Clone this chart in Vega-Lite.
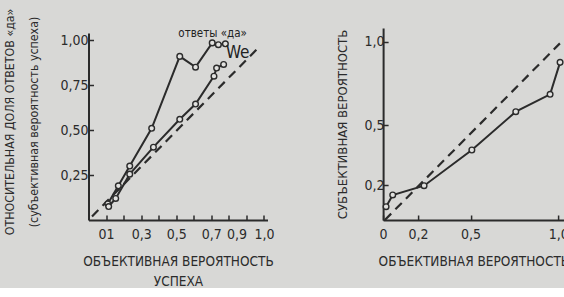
{
  "$schema": "https://vega.github.io/schema/vega-lite/v6.json",
  "background": "#d8d8d6",
  "padding": {"left": 3.5, "top": 8, "right": 0, "bottom": 0},
  "spacing": 115.6,
  "bounds": "flush",
  "config": {
    "view": {"stroke": null},
    "font": "Liberation Sans Narrow, Arial Narrow, DejaVu Sans Condensed, Roboto Condensed, Liberation Sans, sans-serif",
    "axis": {
      "grid": false,
      "domainColor": "#2b2b2b",
      "domainWidth": 2,
      "tickColor": "#2b2b2b",
      "tickWidth": 1.5,
      "tickSize": -5,
      "labelColor": "#2b2b2b",
      "labelFontSize": 14,
      "labelPadding": 5.5,
      "labelOverlap": false,
      "labelFlush": false,
      "titleColor": "#2b2b2b",
      "titleFontWeight": "normal",
      "titleFontSize": 13
    }
  },
  "datasets": {
    "left": [
      {"series": "yes", "i": 1, "x": 0.11, "y": 0.09},
      {"series": "yes", "i": 2, "x": 0.17, "y": 0.19},
      {"series": "yes", "i": 3, "x": 0.235, "y": 0.30},
      {"series": "yes", "i": 4, "x": 0.36, "y": 0.51},
      {"series": "yes", "i": 5, "x": 0.52, "y": 0.91},
      {"series": "yes", "i": 6, "x": 0.61, "y": 0.85},
      {"series": "yes", "i": 7, "x": 0.705, "y": 0.985},
      {"series": "yes", "i": 8, "x": 0.74, "y": 0.975},
      {"series": "yes", "i": 9, "x": 0.78, "y": 0.98},
      {"series": "we", "i": 1, "x": 0.115, "y": 0.075},
      {"series": "we", "i": 2, "x": 0.155, "y": 0.12},
      {"series": "we", "i": 3, "x": 0.235, "y": 0.255},
      {"series": "we", "i": 4, "x": 0.37, "y": 0.405},
      {"series": "we", "i": 5, "x": 0.52, "y": 0.56},
      {"series": "we", "i": 6, "x": 0.61, "y": 0.645},
      {"series": "we", "i": 7, "x": 0.715, "y": 0.80},
      {"series": "we", "i": 8, "x": 0.73, "y": 0.845},
      {"series": "we", "i": 9, "x": 0.77, "y": 0.865}
    ],
    "leftDiag": [
      {"x": 0.02, "y": 0.02},
      {"x": 0.96, "y": 0.95}
    ],
    "leftText": [
      {"x": 0.707, "y": 1.036, "label": "ответы «да»", "kind": "a"},
      {"x": 0.85, "y": 0.93, "label": "We", "kind": "b"}
    ],
    "right": [
      {"i": 1, "x": 0.017, "y": 0.076},
      {"i": 2, "x": 0.055, "y": 0.143},
      {"i": 3, "x": 0.234, "y": 0.196},
      {"i": 4, "x": 0.507, "y": 0.375},
      {"i": 5, "x": 0.758, "y": 0.58},
      {"i": 6, "x": 0.954, "y": 0.684},
      {"i": 7, "x": 1.011, "y": 0.876}
    ],
    "rightDiag": [
      {"x": 0.01, "y": 0.0},
      {"x": 1.01, "y": 0.99}
    ]
  },
  "hconcat": [
    {
      "width": 179,
      "height": 192,
      "layer": [
        {
          "data": {"name": "leftDiag"},
          "mark": {"type": "line", "color": "#2b2b2b", "strokeWidth": 2.2, "strokeDash": [9, 6]},
          "encoding": {
            "x": {"field": "x", "type": "quantitative"},
            "y": {"field": "y", "type": "quantitative"}
          }
        },
        {
          "data": {"name": "left"},
          "mark": {
            "type": "line",
            "color": "#2b2b2b",
            "strokeWidth": 2,
            "point": {"filled": true, "fill": "#e2e2e0", "stroke": "#2b2b2b", "strokeWidth": 1.4, "size": 32}
          },
          "encoding": {
            "x": {
              "field": "x", "type": "quantitative",
              "scale": {"domain": [0, 1.02], "range": [0, 179], "nice": false, "zero": false},
              "axis": {
                "values": [0.1, 0.2, 0.3, 0.4, 0.5, 0.6, 0.7, 0.8, 0.9, 1.0],
                "tickCount": 20,
                "labelExpr": "datum.value > 0.95 ? '1,0' : (datum.value < 0.15 ? '01' : (round(datum.value*10) % 2 == 0 ? '' : replace(format(datum.value, '.1f'), '.', ',')))",
                "labelAlign": {"condition": {"test": "datum.value > 0.85 && datum.value < 0.95", "value": "right"}, "value": "center"},
                "labelOverlap": false,
                "labelPadding": 12,
                "title": ["ОБЪЕКТИВНАЯ ВЕРОЯТНОСТЬ", "УСПЕХА"],
                "titleLineHeight": 20,
                "titleFontSize": 13.5,
                "titlePadding": 13
              }
            },
            "y": {
              "field": "y", "type": "quantitative",
              "scale": {"domain": [0, 1.04], "range": [192, 5], "nice": false, "zero": false},
              "axis": {
                "values": [0.25, 0.5, 0.75, 1.0],
                "tickCount": 10,
                "labelExpr": "replace(format(datum.value, '.2f'), '.', ',')",
                "labelOverlap": false,
                "title": ["ОТНОСИТЕЛЬНАЯ ДОЛЯ ОТВЕТОВ «да»", "(субъективная вероятность успеха)"],
                "titleFontSize": 12.3,
                "titleLineHeight": 24,
                "titlePadding": 19,
                "titleY": 93.5
              }
            },
            "detail": {"field": "series"},
            "order": {"field": "i"}
          }
        },
        {
          "data": {"name": "leftText"},
          "mark": {"type": "text", "color": "#222222", "baseline": "middle", "align": "center"},
          "encoding": {
            "x": {"field": "x", "type": "quantitative"},
            "y": {"field": "y", "type": "quantitative"},
            "text": {"field": "label"},
            "size": {"field": "kind", "type": "nominal", "scale": {"domain": ["a", "b"], "range": [11.5, 17]}, "legend": null},
            "fontStyle": {"field": "kind", "type": "nominal", "scale": {"domain": ["a", "b"], "range": ["normal", "italic"]}, "legend": null}
          }
        }
      ]
    },
    {
      "width": 181,
      "height": 192,
      "layer": [
        {
          "data": {"name": "rightDiag"},
          "mark": {"type": "line", "color": "#2b2b2b", "strokeWidth": 2.2, "strokeDash": [9, 6]},
          "encoding": {
            "x": {"field": "x", "type": "quantitative"},
            "y": {"field": "y", "type": "quantitative"}
          }
        },
        {
          "data": {"name": "right"},
          "mark": {
            "type": "line",
            "color": "#2b2b2b",
            "strokeWidth": 2,
            "point": {"filled": true, "fill": "#e2e2e0", "stroke": "#2b2b2b", "strokeWidth": 1.4, "size": 32}
          },
          "encoding": {
            "x": {
              "field": "x", "type": "quantitative",
              "scale": {"domain": [0, 1.034], "range": [0, 181], "nice": false, "zero": false},
              "axis": {
                "values": [0, 0.2, 0.5, 1.0],
                "tickCount": 10,
                "labelExpr": "datum.value == 0 ? '0' : replace(format(datum.value, '.1f'), '.', ',')",
                "labelOverlap": false,
                "labelPadding": 12,
                "title": "ОБЪЕКТИВНАЯ ВЕРОЯТНОСТЬ",
                "titleFontSize": 13.5,
                "titleAlign": "left",
                "titleAnchor": "start",
                "titleX": -5,
                "titlePadding": 13
              }
            },
            "y": {
              "field": "y", "type": "quantitative",
              "scale": {"domain": [0, 0.2, 0.5, 1.0, 1.082], "range": [192, 157, 97, 13.7, 0], "nice": false, "zero": false},
              "axis": {
                "values": [0.2, 0.5, 1.0],
                "tickCount": 10,
                "labelExpr": "replace(format(datum.value, '.1f'), '.', ',')",
                "labelOverlap": false,
                "labelPadding": 4,
                "title": "СУБЪЕКТИВНАЯ ВЕРОЯТНОСТЬ",
                "titlePadding": 15
              }
            },
            "order": {"field": "i"}
          }
        }
      ]
    }
  ]
}
